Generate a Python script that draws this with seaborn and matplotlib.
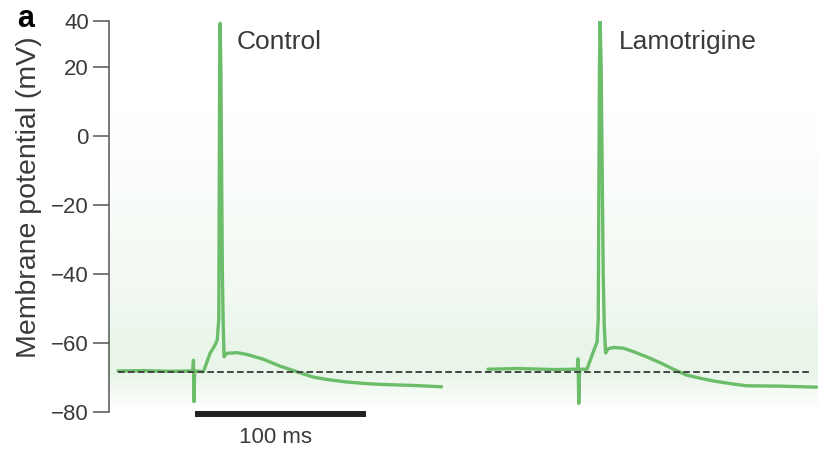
import numpy as np
import pandas as pd
import matplotlib
matplotlib.use("Agg")
import matplotlib.pyplot as plt
import seaborn as sns

# Whole-cell recordings: time (ms) and membrane potential (mV)
control_t = [5.3, 20.0, 35.0, 49.0, 49.4, 49.7, 50.1, 55.2, 59.1, 62.0, 63.3,
             64.2, 64.7, 65.0, 65.4, 66.3, 66.8, 67.3, 68.8, 74.7, 80.5,
             90.2, 100.0, 109.7, 119.5, 129.2, 139.0, 148.7, 158.5, 178.0, 194.5]
control_v = [-68.1, -68.0, -68.2, -68.1, -65.0, -77.0, -68.1, -68.3, -63.0, -60.6, -59.1,
             -53.0, 20.0, 39.0, 20.0, -40.0, -55.0, -64.0, -63.0, -62.8, -63.3,
             -64.7, -66.7, -68.3, -69.9, -70.7, -71.3, -71.7, -72.0, -72.3, -72.7]

lamotrigine_t = [221.6, 240.0, 260.0, 273.9, 274.3, 274.7, 275.2, 279.5, 282.5, 285.4,
                 286.1, 286.8, 287.2, 287.8, 289.0, 289.6, 290.4, 291.8, 294.9, 300.8,
                 306.6, 314.4, 322.2, 330.0, 337.8, 345.6, 353.4, 365.1, 372.9, 392.4, 413.8]
lamotrigine_v = [-67.6, -67.4, -67.7, -67.6, -64.6, -77.5, -67.6, -67.6, -63.5, -59.7,
                 -53.0, 20.0, 40.0, 20.0, -40.0, -55.0, -62.9, -61.7, -61.3, -61.5,
                 -62.5, -64.0, -65.7, -67.6, -69.3, -70.2, -71.0, -71.9, -72.4, -72.5, -72.8]

conditions = ["Control", "Lamotrigine"]
resting_potential = -68.4          # dashed reference level (mV)
y_ticks = [-80, -60, -40, -20, 0, 20, 40]
scale_bar_ms = 100

df = pd.concat([
    pd.DataFrame({"time": control_t, "vm": control_v, "condition": conditions[0]}),
    pd.DataFrame({"time": lamotrigine_t, "vm": lamotrigine_v, "condition": conditions[1]}),
], ignore_index=True)

sns.set_style("white")
plt.rcParams["font.family"] = ["Liberation Sans", "DejaVu Sans"]
text_col = "#3a3a3a"
green = "#6cbd6a"

fig = plt.figure(figsize=(8.18, 4.54), dpi=100)
ax = fig.add_axes([109 / 818, 42 / 454, 709 / 818, 391 / 454])

# soft green wash behind the traces
prof_y = np.linspace(-80, 9, 300)
px = 136 - 3.45 * prof_y
alpha = np.interp(px, [105, 200, 300, 350, 375, 398, 412], [0, 0.3, 0.65, 1.0, 1.0, 0.35, 0.0]) * 0.15
img = np.zeros((len(prof_y), 2, 4))
img[..., 0], img[..., 1], img[..., 2] = 0.42, 0.75, 0.42
img[..., 3] = alpha[:, None]
ax.imshow(img, extent=[0, 414.6, -80, 9], origin="lower", aspect="auto",
          interpolation="bilinear", zorder=0)

sns.lineplot(data=df, x="time", y="vm", hue="condition", units="condition",
             estimator=None, sort=False, palette=[green, green], lw=2.4,
             legend=False, ax=ax, zorder=3)
for ln in ax.get_lines():
    ln.set_solid_joinstyle("round")

ax.hlines(resting_potential, 5.3, 411.1, colors="#444444", lw=1.4,
          linestyles=(0, (3.4, 1.7)), zorder=4)


# axis above +20 mV is drawn compressed
def fwd(v):
    v = np.asarray(v, dtype=float)
    return np.where(v > 20, 20 + (v - 20) * (2 / 3), v)


def inv(u):
    u = np.asarray(u, dtype=float)
    return np.where(u > 20, 20 + (u - 20) * 1.5, u)


ax.set_yscale("function", functions=(fwd, inv))
ax.set_xlim(0, 414.6)
ax.set_ylim(-80, 40)
ax.set_yticks(y_ticks)
ax.set_yticklabels([str(t).replace("-", "\u2212") for t in y_ticks])
ax.set_xticks([])
ax.set_xlabel("")
ax.set_ylabel("Membrane potential (mV)", fontsize=20.5, color=text_col)
ax.yaxis.set_label_coords(-0.094, 0.55)
ax.tick_params(axis="y", direction="out", length=11.5, width=1.1, color="#555555",
               labelsize=16, labelcolor=text_col, pad=3, left=True)
for s in ["top", "right", "bottom"]:
    ax.spines[s].set_visible(False)
ax.spines["left"].set_color("#555555")
ax.spines["left"].set_linewidth(1.1)
ax.patch.set_alpha(0)

# scale bar
ax.plot([50.3, 50.3 + scale_bar_ms], [-80.6, -80.6], color="#222222", lw=4.3,
        solid_capstyle="butt", clip_on=False)
ax.text(97.1, -87.5, f"{scale_bar_ms} ms", ha="center", va="center",
        fontsize=16, color=text_col)

fig.text(237 / 818, 1 - 49 / 454, conditions[0], fontsize=19, color=text_col, va="baseline")
fig.text(619 / 818, 1 - 49 / 454, conditions[1], fontsize=19, color=text_col, va="baseline")
fig.text(17 / 818, 1 - 27 / 454, "a", fontsize=22, fontweight="bold", color="black", va="baseline")

fig.savefig("out.png", dpi=100)
